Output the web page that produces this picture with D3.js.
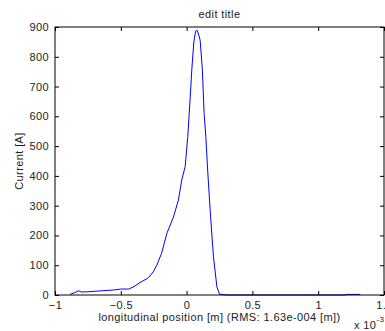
<!DOCTYPE html>
<html>
<head>
<meta charset="utf-8">
<script src="https://cdn.jsdelivr.net/npm/d3@7"></script>
<style>
  body { margin: 0; background: #fff; }
  svg text { font-family: Arial, "Liberation Sans", sans-serif; font-size: 11px; fill: #222; letter-spacing: 0.4px; }
</style>
</head>
<body>
<div id="chart"></div>
<script>
// position in units of 1e-3 m, current in A
var posX = [-0.886, -0.85, -0.82, -0.80, -0.75, -0.65, -0.55, -0.50, -0.44, -0.40, -0.354,
  -0.30, -0.278, -0.25, -0.227, -0.19, -0.15, -0.10, -0.062, -0.037, -0.011, 0.009,
  0.027, 0.040, 0.055, 0.068, 0.077, 0.088, 0.103, 0.120, 0.133, 0.146, 0.160, 0.179,
  0.204, 0.230, 0.250, 0.30, 0.60, 1.00, 1.20, 1.22, 1.32]
var current = [2, 8, 14, 10, 11, 14, 17, 20, 20, 28, 42,
  55, 64, 80, 100, 140, 207, 262, 319, 386, 431, 532,
  660, 760, 850, 885, 890, 880, 856, 755, 610, 532, 420, 285,
  129, 28, 3, 0, 0, 0, 0, 2, 2]
var xTicks = [-1, -0.5, 0, 0.5, 1, 1.5]
var yTicks = [0, 100, 200, 300, 400, 500, 600, 700, 800, 900]

var W = 385, H = 331
var m = {left: 55, top: 27, right: 1, bottom: 36}
var pw = W - m.left - m.right, ph = H - m.top - m.bottom

var svg = d3.select('#chart').append('svg')
  .attr('width', W).attr('height', H)

var x = d3.scaleLinear().domain([-1, 1.5]).range([0, pw])
var y = d3.scaleLinear().domain([0, 900]).range([ph, 0])

var g = svg.append('g').attr('transform', 'translate(' + m.left + ',' + m.top + ')')

// the line first, so the axes sit on top of it
var line = d3.line().x(function(d, i){ return x(posX[i]) }).y(function(d){ return y(d) })
g.append('path').datum(current)
  .attr('d', line)
  .attr('fill', 'none')
  .attr('stroke', '#0000ff')
  .attr('stroke-width', 1)

function styleAxis(sel){
  sel.select('.domain').remove()
  sel.selectAll('line').attr('stroke', '#000')
  sel.selectAll('text').attr('fill', '#222')
    .style('font-family', 'Arial, "Liberation Sans", sans-serif').style('font-size', '11px')
}

g.append('g').attr('transform', 'translate(0,' + ph + ')')
  .call(d3.axisBottom(x).tickValues(xTicks).tickSize(-4).tickPadding(6)
    .tickFormat(function(d){ return d === 1.5 ? '1.5' : d3.format('')(d) }))
  .call(styleAxis)
g.append('g')
  .call(d3.axisTop(x).tickValues(xTicks).tickSize(-4).tickFormat(''))
  .call(styleAxis)
g.append('g')
  .call(d3.axisLeft(y).tickValues(yTicks).tickSize(-4).tickPadding(6))
  .call(styleAxis)
g.append('g').attr('transform', 'translate(' + pw + ',0)')
  .call(d3.axisRight(y).tickValues(yTicks).tickSize(-4).tickFormat(''))
  .call(styleAxis)

// box
g.append('rect').attr('x', 0).attr('y', 0).attr('width', pw).attr('height', ph)
  .attr('fill', 'none').attr('stroke', '#000').attr('stroke-width', 1)

svg.append('text').attr('x', m.left + pw / 2).attr('y', 18)
  .attr('text-anchor', 'middle').text('edit title')

svg.append('text').attr('x', m.left + pw / 2).attr('y', 321)
  .attr('text-anchor', 'middle')
  .text('longitudinal position [m]  (RMS: 1.63e-004 [m])')

svg.append('text').attr('transform', 'translate(23,' + (m.top + ph / 2) + ') rotate(-90)')
  .attr('text-anchor', 'middle').text('Current [A]')

var ex = svg.append('text').attr('x', 354).attr('y', 329)
ex.append('tspan').text('x 10')
ex.append('tspan').attr('dy', -7).style('font-size', '8px').text('-3')
</script>
</body>
</html>
